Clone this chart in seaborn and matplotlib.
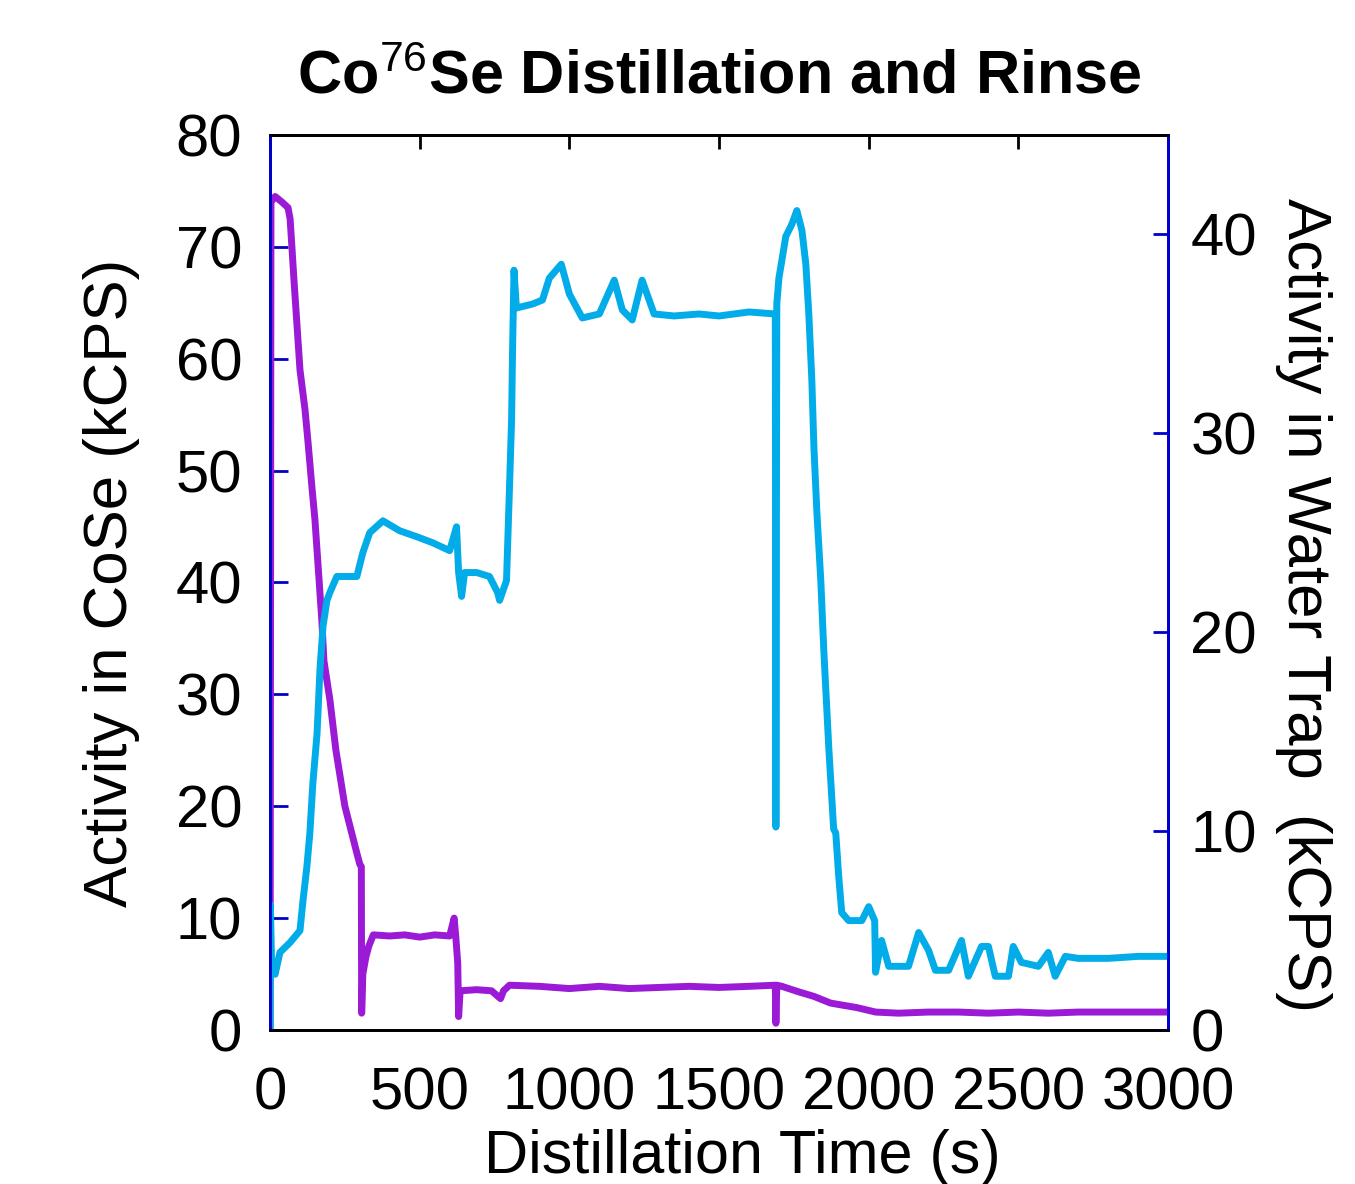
import numpy as np
import pandas as pd
import matplotlib
matplotlib.use('Agg')
import matplotlib.pyplot as plt
import seaborn as sns

# CoSe activity (left axis, kCPS)
cose_time = [0, 1, 3, 17, 40, 60, 67, 73, 80, 90, 100, 117, 127, 140, 150, 160, 173,
             180, 200, 220, 250, 290, 300, 305, 306, 310, 320, 330, 345, 400, 450, 500,
             550, 600, 615, 620, 627, 630, 635, 690, 740, 770, 780, 800, 900, 1000, 1100,
             1200, 1300, 1400, 1500, 1600, 1688, 1690, 1693, 1710, 1767, 1817, 1873,
             1960, 2023, 2100, 2200, 2300, 2400, 2500, 2600, 2700, 2800, 2900, 3000]
cose_act = [0, 21, 74, 74.5, 74, 73.5, 72.5, 70, 67, 63, 59, 55.4, 52.5, 48.5, 45.6, 41.7, 36.6,
            33, 29.5, 25, 20, 15.8, 14.8, 14.6, 1.5, 5, 6.5, 7.5, 8.5, 8.4, 8.5, 8.3,
            8.5, 8.4, 10, 8.5, 6, 1.2, 3.5, 3.6, 3.5, 2.8, 3.5, 4.0, 3.9, 3.7, 3.9,
            3.7, 3.8, 3.9, 3.8, 3.9, 4.0, 0.6, 4.0, 3.9, 3.4, 3.0, 2.4,
            2.0, 1.6, 1.5, 1.6, 1.6, 1.5, 1.6, 1.5, 1.6, 1.6, 1.6, 1.6]

# Water trap activity (right axis, kCPS)
trap_time = [0, 1, 5, 17, 33, 67, 100, 110, 123, 133, 143, 157, 167, 177, 190, 200, 223, 290,
             310, 333, 377, 433, 490, 543, 600, 623, 630, 640, 650, 690, 733, 760, 767, 790,
             800, 807, 810, 815, 823, 877, 910, 933, 973, 1000, 1043, 1100, 1150, 1177, 1210,
             1243, 1283, 1350, 1433, 1500, 1600, 1688, 1690, 1693, 1700, 1710, 1723, 1743,
             1760, 1777, 1790, 1800, 1810, 1817, 1827, 1840, 1850, 1867, 1883, 1890, 1900,
             1910, 1933, 1977, 2000, 2020, 2023, 2043, 2067, 2133, 2167, 2200, 2223, 2267,
             2310, 2333, 2377, 2400, 2423, 2467, 2483, 2510, 2567, 2600, 2623, 2657, 2700,
             2800, 2900, 3000]
trap_act = [0, 6.3, 3.5, 2.8, 3.9, 4.4, 5.0, 6.5, 8.2, 9.9, 12.4, 14.9, 18.2, 20.3, 21.6, 22.0, 22.8, 22.8,
            24.0, 25.0, 25.6, 25.1, 24.8, 24.5, 24.1, 25.3, 23.0, 21.8, 23.0, 23.0, 22.8, 22.0, 21.6, 22.6,
            27.3, 30.7, 34.0, 38.2, 36.3, 36.5, 36.7, 37.8, 38.5, 37.0, 35.8, 36.0, 37.7, 36.2, 35.7,
            37.7, 36.0, 35.9, 36.0, 35.9, 36.1, 36.0, 10.2, 36.5, 37.8, 38.7, 39.9, 40.5,
            41.2, 40.2, 38.5, 36.0, 32.7, 29.3, 26.0, 22.6, 19.1, 14.1, 10.1, 9.9, 7.7,
            5.9, 5.5, 5.5, 6.2, 5.5, 2.9, 4.5, 3.2, 3.2, 4.9, 4.0, 3.0, 3.0,
            4.5, 2.7, 4.2, 4.2, 2.7, 2.7, 4.2, 3.4, 3.2, 3.9, 2.7, 3.7, 3.6,
            3.6, 3.7, 3.7]

x_ticks = [0, 500, 1000, 1500, 2000, 2500, 3000]
left_ticks = [0, 10, 20, 30, 40, 50, 60, 70, 80]
right_ticks = [0, 10, 20, 30, 40]

cose_df = pd.DataFrame({'t': cose_time, 'act': cose_act})
trap_df = pd.DataFrame({'t': trap_time, 'act': trap_act})

sns.set_style('white')
plt.rcParams['font.family'] = ['Liberation Sans', 'DejaVu Sans']
plt.rcParams['text.color'] = 'black'
plt.rcParams['axes.labelcolor'] = 'black'
plt.rcParams['mathtext.fontset'] = 'custom'
plt.rcParams['mathtext.rm'] = 'Liberation Sans'
plt.rcParams['mathtext.it'] = 'Liberation Sans'
plt.rcParams['mathtext.bf'] = 'Liberation Sans:bold'

purple = '#9A1AD6'
cyan = '#02ACE8'
blue = '#0000CC'

fig = plt.figure(figsize=(13.55, 11.84), dpi=100)
ax = fig.add_axes([0.1993, 0.1301, 0.6627, 0.7559])
ax2 = ax.twinx()

sns.lineplot(data=cose_df, x='t', y='act', ax=ax, color=purple, linewidth=5, estimator=None)
sns.lineplot(data=trap_df, x='t', y='act', ax=ax2, color=cyan, linewidth=5, estimator=None)

ax.set_xlim(0, 3000)
ax.set_ylim(0, 80)
ax2.set_ylim(0, 45)
ax.set_xticks(x_ticks)
ax.set_yticks(left_ticks)
ax2.set_yticks(right_ticks)

fs = 43
ax.tick_params(axis='x', direction='in', top=True, length=10, width=2, colors='black',
               labelcolor='black', labelsize=fs, pad=26)
ax.tick_params(axis='y', direction='in', length=13, width=2, color=blue, labelcolor='black',
               labelsize=fs, pad=20)
ax2.tick_params(axis='y', direction='in', length=11, width=2, color=blue, labelcolor='black',
                labelsize=fs, pad=16)

for a in (ax, ax2):
    a.spines['top'].set_color('black')
    a.spines['bottom'].set_color('black')
    a.spines['left'].set_color(blue)
    a.spines['right'].set_color(blue)
    for s in a.spines.values():
        s.set_linewidth(2)
        s.set_visible(True)

ax.set_xlabel('Distillation Time (s)', fontsize=44, labelpad=6)
ax.xaxis.label.set_x(0.526)
ax.set_ylabel('Activity in CoSe (kCPS)', fontsize=44.5, labelpad=26)
ax2.set_ylabel('Activity in Water Trap  (kCPS)', fontsize=44.5, rotation=270, labelpad=54)
ax2.yaxis.label.set_y(0.475)
ax.set_title('Co$^{76}$Se Distillation and Rinse', fontsize=44, fontweight='bold', pad=30)

fig.savefig('out.png', dpi=100, facecolor='white')
